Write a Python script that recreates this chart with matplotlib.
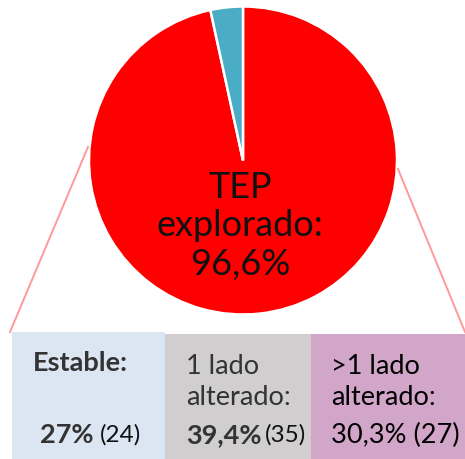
import matplotlib
matplotlib.use("Agg")
import matplotlib.pyplot as plt
from matplotlib.patches import Rectangle

# ---- data ----
pie_labels = ["TEP explorado", "No explorado"]
pie_values = [96.6, 3.4]
pie_colors = ["#FF0000", "#4BACC6"]
center_label = "TEP\nexplorado:\n96,6%"

box_titles = ["Estable:", "1 lado\nalterado:", ">1 lado\nalterado:"]
box_pcts = ["27%", "39,4%", "30,3%"]
box_counts = [24, 35, 27]
box_colors = ["#DCE6F2", "#D0CECE", "#D2A6C8"]

W, H = 465, 460
fig = plt.figure(figsize=(W / 100, H / 100), dpi=100)
ax = fig.add_axes([0, 0, 1, 1])

def Y(y):
    return H - y

FONT = "Lato"

# pie
cx, cy, r = 243, Y(161.5), 154
ax.pie(pie_values, colors=pie_colors, startangle=90, counterclock=False,
       center=(cx, cy), radius=r, frame=True,
       wedgeprops=dict(edgecolor="white", linewidth=1.8))
ax.set_xlim(0, W)
ax.set_ylim(0, H)
ax.set_aspect("equal")
ax.axis("off")
ax.text(cx - 3, Y(226), center_label, ha="center", va="center",
        fontsize=26, family=FONT, color="#111111", linespacing=1.2)

# connector lines
ax.plot([88, 10], [Y(148), Y(333)], color="#FF9999", lw=1.4, zorder=1)
ax.plot([398, 465], [Y(170), Y(333)], color="#FF9999", lw=1.4, zorder=1)

# boxes
bx = [(12, 165, 333), (165, 311, 335), (311, 465, 335)]
for (x0, x1, yt), c in zip(bx, box_colors):
    ax.add_patch(Rectangle((x0, 0), x1 - x0, Y(yt), color=c, lw=0, zorder=2))

fs = 19.5
fsc = 17.5
dark = "#333333"
# box 1
ax.text(33, Y(363), box_titles[0], ha="left", va="center", fontsize=fs,
        family=FONT, weight="bold", color=dark, zorder=3)
ax.text(40, Y(435), box_pcts[0], ha="left", va="center", fontsize=fs,
        family=FONT, weight="bold", color=dark, zorder=3)
ax.text(100, Y(435), f"({box_counts[0]})", ha="left", va="center", fontsize=fsc,
        family=FONT, color="#111111", zorder=3)
# box 2
ax.text(186, Y(382), box_titles[1], ha="left", va="center", fontsize=fs,
        family=FONT, color=dark, zorder=3, linespacing=1.3)
ax.text(186, Y(435), box_pcts[1], ha="left", va="center", fontsize=fs,
        family=FONT, weight="bold", color=dark, zorder=3)
ax.text(265, Y(435), f"({box_counts[1]})", ha="left", va="center", fontsize=fsc,
        family=FONT, color="#111111", zorder=3)
# box 3
ax.text(331, Y(382), box_titles[2], ha="left", va="center", fontsize=fs,
        family=FONT, color="#000000", zorder=3, linespacing=1.3)
ax.text(331, Y(435), f"{box_pcts[2]} ({box_counts[2]})", ha="left", va="center",
        fontsize=fs, family=FONT, color="#000000", zorder=3)

fig.savefig("out.png", dpi=100)
